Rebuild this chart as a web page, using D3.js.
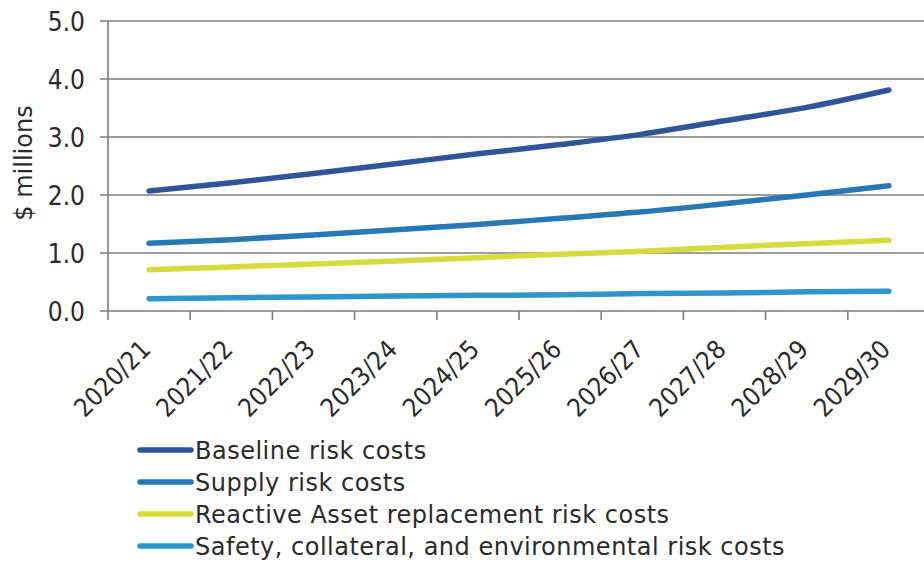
<!DOCTYPE html>
<html>
<head>
<meta charset="utf-8">
<script src="https://cdn.jsdelivr.net/npm/d3@7"></script>
<style>
  html, body { margin: 0; padding: 0; background: #fff; }
  svg text { font-family: "DejaVu Sans Condensed", "DejaVu Sans", sans-serif; fill: #2a2a2a; }
</style>
</head>
<body>
<svg id="chart" width="924" height="565"></svg>
<script>
// Financial years along the x axis
const years = ["2020/21", "2021/22", "2022/23", "2023/24", "2024/25",
               "2025/26", "2026/27", "2027/28", "2028/29", "2029/30"];

// Risk costs per year, $ millions
const baseline = [2.07, 2.21, 2.37, 2.54, 2.71, 2.87, 3.05, 3.28, 3.51, 3.81];
const supply   = [1.17, 1.23, 1.31, 1.40, 1.49, 1.60, 1.71, 1.85, 2.00, 2.16];
const reactive = [0.71, 0.76, 0.81, 0.86, 0.92, 0.98, 1.03, 1.10, 1.16, 1.22];
const safety   = [0.21, 0.23, 0.24, 0.26, 0.27, 0.28, 0.30, 0.31, 0.33, 0.34];

const yTicks = [0, 1, 2, 3, 4, 5];

const seriesNames = ["Baseline risk costs", "Supply risk costs",
                     "Reactive Asset replacement risk costs",
                     "Safety, collateral, and environmental risk costs"];
const seriesColors = ["#2f5497", "#2878b5", "#d6dc3c", "#2e96cc"];
const seriesValues = [baseline, supply, reactive, safety];

const svg = d3.select("#chart");

const x = d3.scaleBand().domain(years).range([108, 930]);
const y = d3.scaleLinear().domain([0, 5]).range([311, 21]);

// Horizontal gridlines with the y tick marks sticking out left of the axis
const grid = svg.append("g");
grid.selectAll("line")
  .data(yTicks)
  .join("line")
  .attr("x1", 100).attr("x2", 924)
  .attr("y1", d => y(d)).attr("y2", d => y(d))
  .attr("stroke", "#7d7d7d").attr("stroke-width", 1.6);

// Vertical axis line
svg.append("line")
  .attr("x1", 108).attr("x2", 108)
  .attr("y1", y(5)).attr("y2", y(0) + 9)
  .attr("stroke", "#7d7d7d").attr("stroke-width", 1.6);

// Y axis labels
const yAxis = d3.axisLeft(y).tickValues(yTicks).tickFormat(d3.format(".1f")).tickSize(0).tickPadding(0);
const gy = svg.append("g").attr("transform", "translate(85,0)").call(yAxis);
gy.select(".domain").remove();
gy.selectAll("text")
  .attr("font-size", 26)
  .attr("dy", "0.36em")
  .style("font-family", "'DejaVu Sans Condensed', sans-serif")
  .style("fill", "#2a2a2a");

// Category boundary ticks below the x axis
const boundaries = years.map(d => x(d));
svg.append("g").selectAll("line")
  .data(boundaries.slice(1))
  .join("line")
  .attr("x1", d => d).attr("x2", d => d)
  .attr("y1", y(0)).attr("y2", y(0) + 9)
  .attr("stroke", "#7d7d7d").attr("stroke-width", 1.6);

// Rotated year labels, centred under each category
svg.append("g").selectAll("text")
  .data(years)
  .join("text")
  .attr("transform", d => `translate(${x(d) + x.bandwidth() / 2 + 3},${y(0) + 40}) rotate(-45)`)
  .attr("text-anchor", "end")
  .attr("font-size", 25.5)
  .text(d => d);

// Y axis title
svg.append("text")
  .attr("transform", "translate(32,163) rotate(-90)")
  .attr("text-anchor", "middle")
  .attr("font-size", 24)
  .style("font-family", "'DejaVu Sans', sans-serif")
  .text("$ millions");

// Series lines
const line = d3.line()
  .x((d, i) => x(years[i]) + x.bandwidth() / 2)
  .y(d => y(d))
  .curve(d3.curveMonotoneX);

svg.append("g").selectAll("path")
  .data(seriesValues)
  .join("path")
  .attr("d", d => line(d))
  .attr("fill", "none")
  .attr("stroke", (d, i) => seriesColors[i])
  .attr("stroke-width", 5.5)
  .attr("stroke-linecap", "round")
  .attr("stroke-linejoin", "round");

// Legend
const legend = svg.append("g").attr("transform", "translate(0,450)");
const items = legend.selectAll("g")
  .data(seriesNames)
  .join("g")
  .attr("transform", (d, i) => `translate(0,${i * 32})`);
items.append("line")
  .attr("x1", 140).attr("x2", 191)
  .attr("y1", 0).attr("y2", 0)
  .attr("stroke", (d, i) => seriesColors[i])
  .attr("stroke-width", 5.5)
  .attr("stroke-linecap", "round");
items.append("text")
  .attr("x", 195)
  .attr("dy", "0.36em")
  .attr("font-size", 24)
  .attr("letter-spacing", 0.5)
  .style("font-family", "'DejaVu Sans', sans-serif")
  .text(d => d);
</script>
</body>
</html>
